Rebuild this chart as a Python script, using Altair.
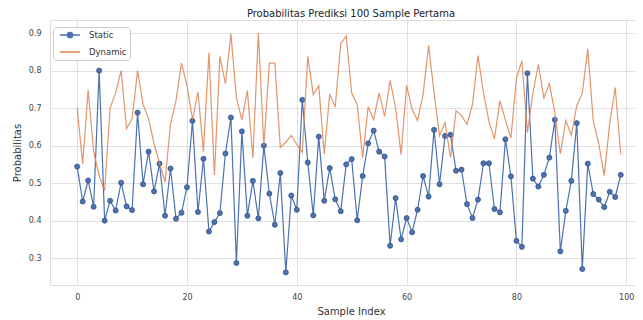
import altair as alt
import pandas as pd

# ---------------- data ----------------
sample_index = list(range(100))

static_prob = [
    0.544, 0.451, 0.507, 0.437, 0.800, 0.400, 0.453, 0.427, 0.501, 0.438,
    0.428, 0.688, 0.497, 0.584, 0.478, 0.552, 0.413, 0.539, 0.405, 0.421,
    0.489, 0.666, 0.423, 0.565, 0.371, 0.396, 0.420, 0.579, 0.675, 0.287,
    0.638, 0.413, 0.506, 0.406, 0.600, 0.472, 0.389, 0.527, 0.262, 0.467,
    0.429, 0.722, 0.555, 0.414, 0.624, 0.453, 0.540, 0.457, 0.425, 0.550,
    0.564, 0.401, 0.519, 0.606, 0.640, 0.584, 0.571, 0.333, 0.460, 0.350,
    0.407, 0.369, 0.429, 0.519, 0.464, 0.642, 0.497, 0.626, 0.629, 0.533,
    0.536, 0.444, 0.407, 0.456, 0.553, 0.553, 0.431, 0.422, 0.617, 0.518,
    0.346, 0.330, 0.793, 0.512, 0.491, 0.522, 0.568, 0.669, 0.318, 0.426,
    0.506, 0.660, 0.271, 0.552, 0.471, 0.456, 0.436, 0.477, 0.463, 0.522,
]

dynamic_prob = [
    0.700, 0.552, 0.748, 0.583, 0.520, 0.480, 0.700, 0.740, 0.800, 0.645,
    0.672, 0.800, 0.710, 0.672, 0.605, 0.553, 0.503, 0.658, 0.720, 0.820,
    0.760, 0.670, 0.743, 0.584, 0.848, 0.522, 0.838, 0.765, 0.898, 0.728,
    0.668, 0.747, 0.567, 0.900, 0.600, 0.820, 0.820, 0.595, 0.609, 0.627,
    0.603, 0.582, 0.838, 0.736, 0.760, 0.577, 0.738, 0.703, 0.872, 0.892,
    0.740, 0.709, 0.568, 0.704, 0.669, 0.740, 0.678, 0.774, 0.700, 0.576,
    0.760, 0.697, 0.667, 0.736, 0.867, 0.742, 0.626, 0.662, 0.568, 0.693,
    0.680, 0.657, 0.710, 0.840, 0.742, 0.664, 0.618, 0.720, 0.668, 0.620,
    0.780, 0.826, 0.635, 0.740, 0.817, 0.727, 0.766, 0.688, 0.578, 0.667,
    0.627, 0.707, 0.740, 0.858, 0.665, 0.605, 0.520, 0.660, 0.755, 0.577,
]

series_names = ["Static", "Dynamic"]
series_colors = ["#4c72b0", "#dd8452"]
x_ticks = [0, 20, 40, 60, 80, 100]
y_ticks = [0.3, 0.4, 0.5, 0.6, 0.7, 0.8, 0.9]
chart_title = "Probabilitas Prediksi 100 Sample Pertama"
x_title = "Sample Index"
y_title = "Probabilitas"

# ---------------- table ----------------
df = pd.DataFrame({
    "index": sample_index + sample_index,
    "prob": static_prob + dynamic_prob,
    "series": [series_names[0]] * len(static_prob) + [series_names[1]] * len(dynamic_prob),
})

FONT = "DejaVu Sans"

x_scale = alt.Scale(domain=[-4.95, 101.6], nice=False, zero=False)
y_scale = alt.Scale(domain=[0.2283, 0.935], nice=False, zero=False)

x_enc = alt.X(
    "index:Q", scale=x_scale,
    axis=alt.Axis(values=x_ticks, format="d", title=x_title, ticks=False, tickSize=0,
                  labelPadding=8, labelFontSize=8, labelColor="#444", labelFont=FONT,
                  titleFont=FONT, titleFontSize=10, titleFontWeight="normal", titleColor="#333",
                  titleX=301, titleY=26, titleBaseline="middle", titleAlign="center",
                  domain=False, grid=True, gridColor="#dcdcdc", gridWidth=0.9),
)
y_enc = alt.Y(
    "prob:Q", scale=y_scale,
    axis=alt.Axis(values=y_ticks, format=".1f", title=y_title, ticks=False, tickSize=0,
                  labelPadding=9, labelFontSize=8, labelColor="#444", labelFont=FONT,
                  titleFont=FONT, titleFontSize=10, titleFontWeight="normal", titleColor="#333",
                  titleX=-33, titleY=132.5, titleBaseline="middle", titleAlign="center",
                  domain=False, grid=True, gridColor="#dcdcdc", gridWidth=0.9),
)

base = alt.Chart(df)

static_line = base.transform_filter(alt.datum.series == series_names[0]).mark_line(
    color=series_colors[0], strokeWidth=1.2
).encode(x=x_enc, y=y_enc)

static_points = base.transform_filter(alt.datum.series == series_names[0]).mark_point(
    filled=True, fill=series_colors[0], stroke="#2c4a7e", strokeWidth=0.7, size=26, opacity=1
).encode(x=x_enc, y=y_enc)

dynamic_line = base.transform_filter(alt.datum.series == series_names[1]).mark_line(
    color=series_colors[1], strokeWidth=1.2, opacity=0.85
).encode(x=x_enc, y=y_enc)

# legend-only layer (no rows drawn; legend built from explicit scale domain)
static_symbol = "M-2.5,0H2.5M0.65,0A0.65,0.65,0,1,1,-0.65,0A0.65,0.65,0,1,1,0.65,0Z"
dynamic_symbol = "M-2.5,0H2.5"
legend = alt.Legend(
    title=None, orient="none", legendX=3, legendY=7, direction="vertical",
    fillColor="white", strokeColor="#cccccc", cornerRadius=3, padding=3,
    symbolSize=64, symbolStrokeWidth=1.5, symbolOffset=9, symbolOpacity=1,
    labelFont=FONT, labelFontSize=8.5, labelColor="#333", labelOffset=14, rowPadding=6,
)
color_scale = alt.Scale(domain=series_names, range=series_colors)
legend_layer = base.transform_filter("false").mark_point(filled=True).encode(
    x=alt.X("index:Q", scale=x_scale),
    y=alt.Y("prob:Q", scale=y_scale),
    fill=alt.Fill("series:N", scale=color_scale, legend=legend, sort=series_names),
    stroke=alt.Stroke("series:N", scale=color_scale, legend=legend, sort=series_names),
    shape=alt.Shape("series:N", scale=alt.Scale(domain=series_names, range=[static_symbol, dynamic_symbol]),
                    legend=legend, sort=series_names),
)

chart = alt.layer(static_line, static_points, dynamic_line, legend_layer).properties(
    width=585, height=265,
    title=alt.TitleParams(chart_title, font=FONT, fontSize=10, fontWeight="normal",
                          color="#222", anchor="middle", offset=1, dx=8.5),
    autosize=alt.AutoSizeParams(type="none"),
    padding={"left": 42, "top": 12, "right": 0, "bottom": 32},
).configure_view(stroke="#cccccc", strokeWidth=1).configure(background="white")

chart.save("out.html", embed_options={"renderer": "svg", "actions": False})
